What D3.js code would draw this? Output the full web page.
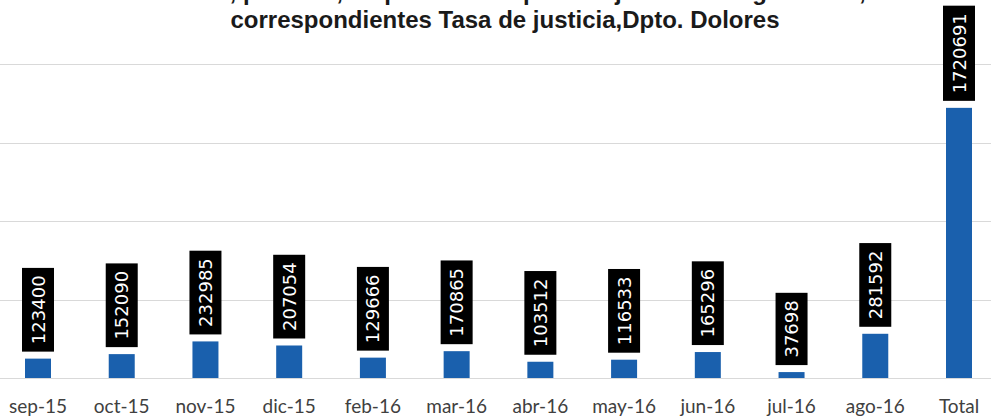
<!DOCTYPE html>
<html><head><meta charset="utf-8">
<script src="https://cdn.jsdelivr.net/npm/d3@7"></script>
<style>html,body{margin:0;padding:0;background:#fff;overflow:hidden}</style>
</head><body>
<svg id="c" width="991" height="418"></svg>
<script>
const categories = ["sep-15","oct-15","nov-15","dic-15","feb-16","mar-16","abr-16","may-16","jun-16","jul-16","ago-16","Total"];
const values = [123400,152090,232985,207054,129666,170865,103512,116533,165296,37698,281592,1720691];
const yTicks = [0,500000,1000000,1500000,2000000];
const titleLines = ["Montos, por mes, en pesos de depósitos judiciales ingresados,",
                    "correspondientes Tasa de justicia,Dpto. Dolores"];

const svg = d3.select("#c");
const x = d3.scalePoint().domain(categories).range([38, 959]);
const y = d3.scaleLinear().domain([0, 2000000]).range([378, 64]);

// gridlines
svg.append("g").selectAll("line").data(yTicks).join("line")
  .attr("x1", 0).attr("x2", 991)
  .attr("y1", d => Math.round(y(d)) + 0.5).attr("y2", d => Math.round(y(d)) + 0.5)
  .attr("stroke", "#d9d9d9").attr("stroke-width", 1);

// bars
const bw = 26;
svg.append("g").selectAll("rect").data(values).join("rect")
  .attr("x", (d,i) => x(categories[i]) - bw/2)
  .attr("y", d => y(d))
  .attr("width", bw)
  .attr("height", d => y(0) - y(d))
  .attr("fill", "#1a60ad");

// labels
const lg = svg.append("g");
values.forEach((v,i) => {
  const cx = x(categories[i]);
  const g = lg.append("g");
  const rect = g.append("rect").attr("fill", "#000");
  const t = g.append("text")
    .attr("font-family", "DejaVu Sans")
    .attr("font-size", 18)
    .attr("fill", "#fff")
    .attr("text-anchor", "middle")
    .text(v);
  const len = t.node().getComputedTextLength();
  const h = len + 15;
  const bottom = y(v) - 7;
  const top = bottom - h;
  rect.attr("x", cx - 16).attr("y", top).attr("width", 32).attr("height", h);
  t.attr("transform", `translate(${cx + 6.5},${(top + bottom)/2}) rotate(-90)`);
});

// x axis labels
svg.append("g").selectAll("text").data(categories).join("text")
  .attr("x", d => x(d)).attr("y", 413)
  .attr("text-anchor", "middle")
  .attr("font-family", "Lato, 'Open Sans', sans-serif")
  .attr("font-size", 19)
  .attr("fill", "#404040")
  .text(d => d);

// title
svg.append("g").selectAll("text").data(titleLines).join("text")
  .attr("x", 505).attr("y", (d,i) => i === 0 ? 0 : 28)
  .attr("text-anchor", "middle")
  .attr("font-family", "'Liberation Sans Narrow', 'Liberation Sans', sans-serif")
  .attr("font-weight", "bold")
  .attr("font-size", 24)
  .attr("fill", "#1a1a1a")
  .text(d => d);
</script>
</body></html>
